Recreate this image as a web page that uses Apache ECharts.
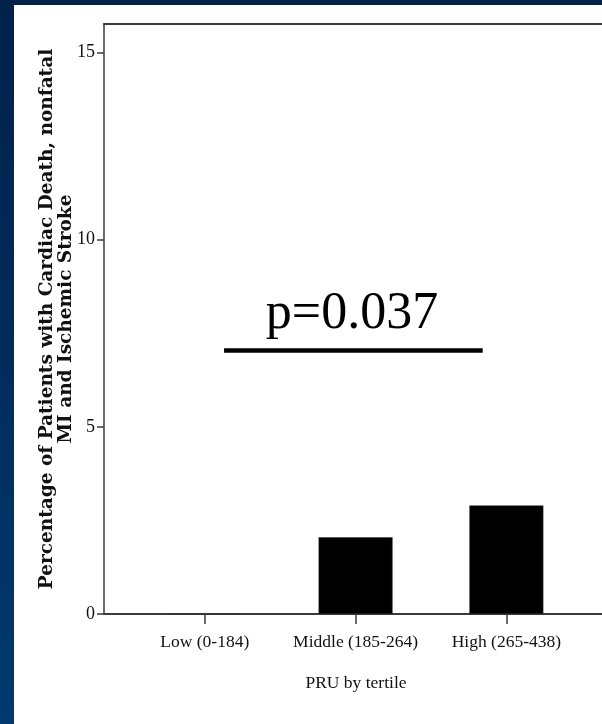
<!DOCTYPE html>
<html>
<head>
<meta charset="utf-8">
<script src="https://cdn.jsdelivr.net/npm/echarts@6/dist/echarts.min.js"></script>
<style>
  html, body { margin: 0; padding: 0; }
  body {
    width: 602px; height: 724px; overflow: hidden; position: relative;
    background: linear-gradient(180deg, #00214a 0%, #002c5c 50%, #003a70 100%);
  }
  #panel { position: absolute; left: 14px; top: 5px; right: 0; bottom: 0; background: #ffffff; }
  #chart { position: absolute; left: 0; top: 0; width: 602px; height: 724px; }
</style>
</head>
<body>
<div id="panel"></div>
<div id="chart"></div>
<script>
// Event rate (%) by PRU tertile
const categories = ['Low (0-184)', 'Middle (185-264)', 'High (265-438)'];
const eventRates = [0, 2.05, 2.9];
const yTicks = [0, 5, 10, 15];
const catPositions = [1, 2, 3];
const pValueText = 'p=0.037';
const pValueSpan = [1.128, 2.843];
const pValueLevel = 7.04;

const chart = echarts.init(document.getElementById('chart'), null, { renderer: 'canvas' });

const serif = '"Liberation Serif", "Times New Roman", serif';
const axisColor = '#3a3a3a';
const xMin = 0.332;
const xMax = 3.634;

chart.setOption({
  backgroundColor: 'transparent',
  animation: false,
  grid: { left: 104, top: 24, right: 0, bottom: 110 },
  xAxis: [
    {
      type: 'value',
      min: xMin,
      max: xMax,
      position: 'bottom',
      splitLine: { show: false },
      axisLine: { show: true, onZero: false, lineStyle: { color: axisColor, width: 2 } },
      axisTick: { show: true, customValues: catPositions, length: 10, lineStyle: { color: axisColor, width: 1.5 } },
      axisLabel: {
        customValues: catPositions,
        formatter: v => categories[Math.round(v) - 1] || '',
        margin: 19,
        fontFamily: serif,
        fontSize: 17.5,
        color: '#111'
      },
      name: 'PRU by tertile',
      nameLocation: 'middle',
      nameGap: 60,
      nameMoveOverlap: false,
      nameTextStyle: { fontFamily: serif, fontSize: 17.5, color: '#111', padding: [0, 0, 0, 6] }
    },
    {
      // top frame line of the plot box
      type: 'value',
      min: xMin,
      max: xMax,
      position: 'top',
      splitLine: { show: false },
      axisLine: { show: true, onZero: false, lineStyle: { color: axisColor, width: 2 } },
      axisTick: { show: false },
      axisLabel: { show: false }
    }
  ],
  yAxis: {
    type: 'value',
    min: 0,
    max: 15.76,
    splitLine: { show: false },
    axisLine: { show: true, onZero: false, lineStyle: { color: axisColor, width: 1.5 } },
    axisTick: { show: true, customValues: yTicks, length: 7, lineStyle: { color: axisColor, width: 1.5 } },
    axisLabel: {
      customValues: yTicks,
      margin: 9,
      fontFamily: serif,
      fontSize: 18,
      color: '#111'
    },
    name: 'Percentage of Patients with Cardiac Death, nonfatal\nMI and Ischemic Stroke',
    nameLocation: 'middle',
    nameGap: 28,
    nameRotate: 90,
    nameMoveOverlap: false,
    nameTextStyle: {
      fontFamily: '"DejaVu Serif", serif',
      fontWeight: 'bold',
      fontSize: 18.5,
      lineHeight: 19,
      color: '#111',
      align: 'center'
    }
  },
  series: [
    {
      type: 'bar',
      xAxisIndex: 0,
      barWidth: 74,
      data: catPositions.map((x, i) => [x, eventRates[i]]),
      itemStyle: { color: '#000000', borderColor: '#333', borderWidth: 0.5 },
      markLine: {
        silent: true,
        symbol: ['none', 'none'],
        lineStyle: { color: '#000', width: 4.5, type: 'solid' },
        label: { show: false },
        data: [[
          { coord: [pValueSpan[0], pValueLevel] },
          { coord: [pValueSpan[1], pValueLevel] }
        ]]
      }
    }
  ],
  graphic: [
    {
      type: 'text',
      x: 352,
      y: 314,
      style: {
        text: pValueText,
        fontFamily: serif,
        fontSize: 52,
        fill: '#000',
        align: 'center',
        verticalAlign: 'middle'
      }
    }
  ]
});
</script>
</body>
</html>
